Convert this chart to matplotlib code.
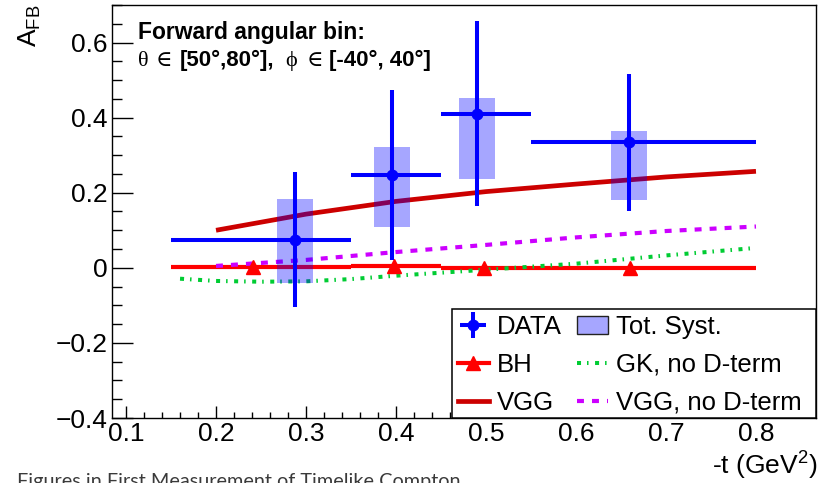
import matplotlib
matplotlib.use("Agg")
import matplotlib.pyplot as plt
from matplotlib.lines import Line2D
from matplotlib.patches import Patch, Rectangle
from matplotlib.ticker import MultipleLocator, FuncFormatter

plt.rcParams['font.family'] = ['Liberation Sans', 'DejaVu Sans']
plt.rcParams['mathtext.fontset'] = 'custom'
plt.rcParams['mathtext.rm'] = 'Liberation Sans'
plt.rcParams['mathtext.default'] = 'regular'
plt.rcParams['lines.scale_dashes'] = False

# ---- measured forward-backward asymmetry in bins of -t ----
t_center = [0.288, 0.395, 0.490, 0.659]
t_low = [0.15, 0.35, 0.45, 0.55]
t_high = [0.35, 0.45, 0.55, 0.80]
afb = [0.075, 0.248, 0.411, 0.334]
stat_err = [0.180, 0.226, 0.246, 0.182]
syst_low = [-0.040, 0.109, 0.237, 0.181]
syst_high = [0.184, 0.323, 0.453, 0.365]
syst_halfwidth = 0.02

# ---- Bethe-Heitler expectation (per bin) ----
bh_edges = [0.15, 0.35, 0.45, 0.55, 0.80]
bh_vals = [0.001, 0.005, -0.001, -0.001]
bh_marker_t = [0.241, 0.398, 0.498, 0.660]
bh_marker_a = [0.001, 0.004, -0.001, -0.001]

# ---- model curves ----
vgg_t = [0.2, 0.3, 0.4, 0.5, 0.6, 0.7, 0.8]
vgg_a = [0.100, 0.143, 0.177, 0.203, 0.223, 0.242, 0.257]

vgg_nod_t = [0.2, 0.3, 0.4, 0.5, 0.6, 0.7, 0.8]
vgg_nod_a = [0.005, 0.021, 0.042, 0.061, 0.081, 0.098, 0.110]

gk_t = [0.16, 0.2, 0.25, 0.3, 0.35, 0.4, 0.45, 0.5, 0.55, 0.6, 0.65, 0.7, 0.75, 0.8]
gk_a = [-0.029, -0.035, -0.037, -0.036, -0.030, -0.021, -0.013, -0.005,
        0.003, 0.011, 0.022, 0.033, 0.043, 0.053]

W, H = 833, 483


def fx(px):
    return px / W


def fy(py):
    return 1 - py / H


fig = plt.figure(figsize=(W / 100, H / 100), dpi=100)
ax_l, ax_r, ax_t, ax_b = 112, 816, 5, 418
ax = fig.add_axes([fx(ax_l), fy(ax_b), (ax_r - ax_l) / W, (ax_b - ax_t) / H])
ax.set_xlim(0.0844, 0.8667)
ax.set_ylim(-0.4, 0.7)

c_vgg = '#cc0000'
c_bh = '#ff0000'
c_gk = '#00cc33'
c_nod = '#cc00ff'
c_data = '#0000ff'
gk_style = (0, (2.9, 4.3, 1.1, 4.7))
nod_style = (0, (5.0, 5.8))

# BH: flat per-bin values with triangle markers
for i in range(len(bh_vals)):
    ax.plot([bh_edges[i], bh_edges[i + 1]], [bh_vals[i], bh_vals[i]],
            color=c_bh, lw=3.0, solid_capstyle='butt', zorder=2)
ax.plot(bh_marker_t, bh_marker_a, ls='none', marker='^', ms=10,
        color=c_bh, zorder=2.1)

ax.plot(gk_t, gk_a, color=c_gk, lw=2.9, linestyle=gk_style, zorder=2)
ax.plot(vgg_nod_t, vgg_nod_a, color=c_nod, lw=3.0, linestyle=nod_style,
        zorder=2)
ax.plot(vgg_t, vgg_a, color=c_vgg, lw=3.4, solid_capstyle='butt', zorder=2)

# systematic boxes
for t, lo, hi in zip(t_center, syst_low, syst_high):
    ax.add_patch(Rectangle((t - syst_halfwidth, lo), 2 * syst_halfwidth, hi - lo,
                           facecolor=c_data, alpha=0.35, edgecolor='none',
                           zorder=3))

xerr = [[c - l for c, l in zip(t_center, t_low)],
        [h - c for c, h in zip(t_center, t_high)]]
data_h = ax.errorbar(t_center, afb, xerr=xerr, yerr=stat_err, fmt='o',
                     color=c_data, ms=7.5, elinewidth=2.9, capsize=0, zorder=4)

# axes styling
ax.xaxis.set_major_locator(MultipleLocator(0.1))
ax.xaxis.set_minor_locator(MultipleLocator(0.02))
ax.yaxis.set_major_locator(MultipleLocator(0.2))
ax.yaxis.set_minor_locator(MultipleLocator(0.05))


def fmt(v, pos):
    if abs(v) < 1e-9:
        return '0'
    return f"{v:.1f}".replace('-', '\u2212')


ax.xaxis.set_major_formatter(FuncFormatter(fmt))
ax.yaxis.set_major_formatter(FuncFormatter(fmt))
ax.tick_params(axis='both', which='both', direction='in', top=False,
               right=False, labelsize=19, width=1.0, colors='black')
ax.tick_params(axis='y', which='major', length=15, pad=3)
ax.tick_params(axis='y', which='minor', length=7.5)
ax.tick_params(axis='x', which='major', length=8.6, pad=3)
ax.tick_params(axis='x', which='minor', length=4.3)
for s in ax.spines.values():
    s.set_linewidth(1.0)
    s.set_color('black')

# legend box spanning to the right edge of the axes
leg_l, leg_t = 452, 309
fig.patches.append(Rectangle((fx(leg_l), fy(ax_b)), (ax_r - leg_l) / W,
                             (ax_b - leg_t) / H, transform=fig.transFigure,
                             facecolor='white', edgecolor='black', lw=1.1,
                             zorder=9))
h_bh = Line2D([], [], color=c_bh, lw=3.0, marker='^', ms=10)
h_vgg = Line2D([], [], color=c_vgg, lw=3.4)
h_syst = Patch(facecolor='#a6a6ff', edgecolor='#222222', lw=1.0)
h_gk = Line2D([], [], color=c_gk, lw=2.9, linestyle=gk_style)
h_nod = Line2D([], [], color=c_nod, lw=3.0, linestyle=nod_style)
leg = fig.legend([data_h, h_bh, h_vgg, h_syst, h_gk, h_nod],
                 ['DATA', 'BH', 'VGG', 'Tot. Syst.', 'GK, no D-term',
                  'VGG, no D-term'],
                 ncol=2, loc='upper left',
                 bbox_to_anchor=(fx(leg_l + 2), fy(leg_t + 2)),
                 bbox_transform=fig.transFigure,
                 borderaxespad=0.0, fontsize=18.5, frameon=False,
                 borderpad=0.15, labelspacing=0.54, handlelength=1.2,
                 handletextpad=0.32, columnspacing=0.6)
leg.set_zorder(10)

# annotation text
fig.text(fx(138), fy(39), "Forward angular bin:", weight='bold', size=16.5,
         ha='left', va='baseline')
serif = ['Liberation Serif', 'DejaVu Serif']
pieces = [(138, "\u03b8", serif, 'normal'),
          (156, "\u2208", serif, 'normal'),
          (180, "[50\u00b0,80\u00b0],", None, 'bold'),
          (285, "\u03d5", serif, 'normal'),
          (307, "\u2208", serif, 'normal'),
          (329, "[-40\u00b0, 40\u00b0]", None, 'bold')]
for x, s, fam, w in pieces:
    kw = dict(weight=w, size=16, ha='left', va='baseline')
    if fam:
        kw['family'] = fam
    fig.text(fx(x), fy(66), s, **kw)

fig.text(fx(30), fy(5), r"A$_{FB}$", rotation=90, ha='center', va='top',
         size=19)
fig.text(fx(817), fy(475), r"-t (GeV$^{2}$)", ha='right', va='baseline',
         size=19)
fig.text(fx(17), fy(473), "Figures in First Measurement of Timelike Compton",
         ha='left', va='top', color='#3a3a3a', family='Lato', size=14.3)

fig.savefig('out.png', dpi=100)
